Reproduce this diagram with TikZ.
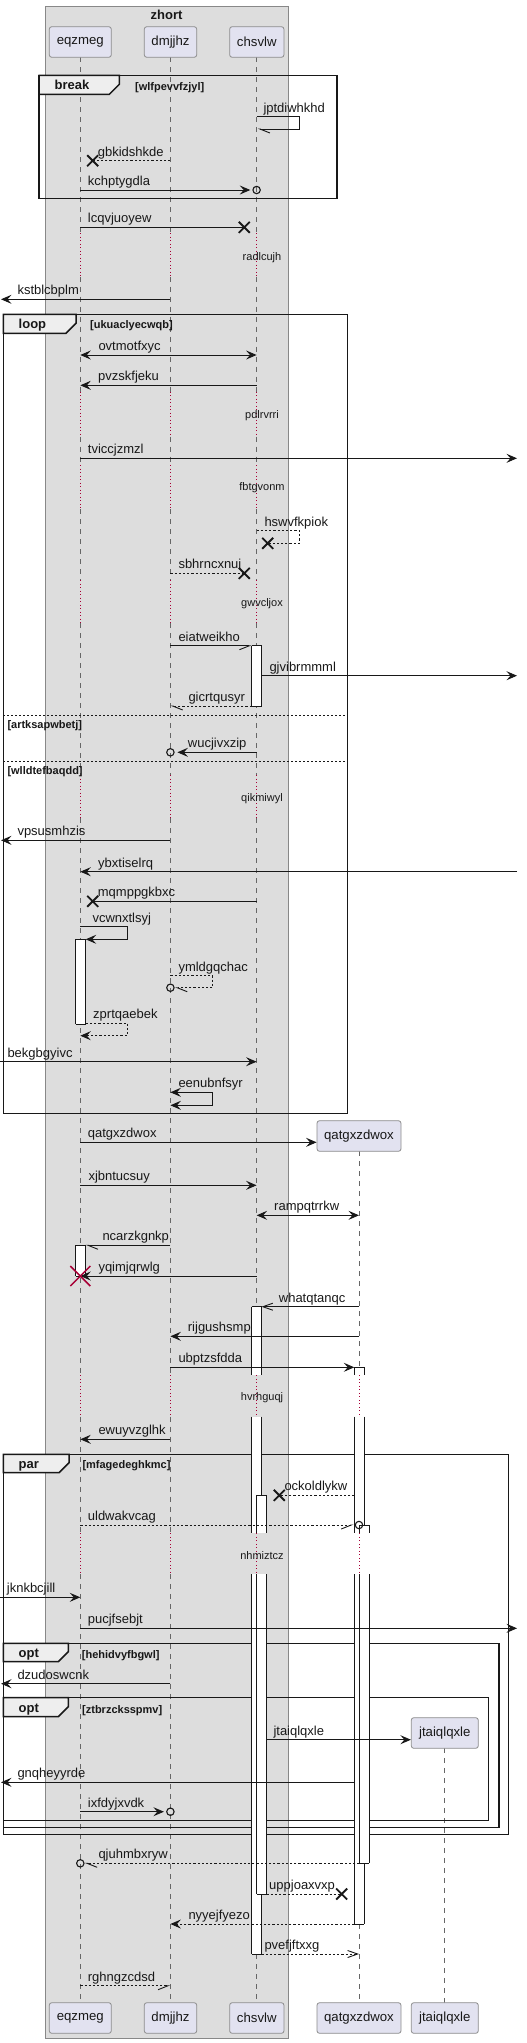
\documentclass[tikz,border=0pt]{standalone}
\usepackage{fontspec}
\setmainfont{Liberation Sans}
\usetikzlibrary{arrows.meta,calc}
\definecolor{grpbg}{HTML}{DDDDDD}
\definecolor{grpbd}{HTML}{888888}
\definecolor{partbg}{HTML}{E2E2F0}
\definecolor{partbd}{HTML}{8C8C8C}
\definecolor{lifec}{HTML}{666666}
\definecolor{ink}{HTML}{181818}
\definecolor{delayc}{HTML}{A80036}
\definecolor{tabbg}{HTML}{EEEEEE}
\tikzset{
  part/.style={draw=partbd, fill=partbg, rounded corners=2.5pt, minimum height=30.6pt, inner sep=0pt, font=\fontsize{13.2}{15}\selectfont, text=ink, line width=0.8pt},
  life/.style={draw=lifec, line width=0.8pt, dash pattern=on 5pt off 5pt},
  delayline/.style={draw=delayc, line width=0.8pt, dash pattern=on 1pt off 2.5pt},
  msg/.style={draw=ink, line width=0.9pt},
  dsh/.style={dash pattern=on 2.2pt off 2pt},
  full/.style={arrows={-Stealth[length=10.5pt,width=9pt,inset=4pt]}},
  fullboth/.style={arrows={Stealth[length=10.5pt,width=9pt,inset=4pt]-Stealth[length=10.5pt,width=9pt,inset=4pt]}},
  hbE/.style={arrows={-Straight Barb[length=10pt,width=8pt,right]}},
  hbW/.style={arrows={-Straight Barb[length=10pt,width=8pt,left]}},
  openb/.style={arrows={-Straight Barb[length=10pt,width=7pt]}},
  lab/.style={font=\fontsize{13}{15}\selectfont, anchor=base west, inner sep=0pt, text=ink},
  dlab/.style={font=\fontsize{11}{13}\selectfont, inner sep=0pt, text=ink},
  cond/.style={font=\bfseries\fontsize{11}{13}\selectfont, anchor=base west, inner sep=0pt, text=ink},
  ftitle/.style={font=\bfseries\fontsize{13}{15}\selectfont, anchor=base west, inner sep=0pt, text=ink},
  frameline/.style={draw=ink, line width=1.5pt},
  tabshape/.style={draw=ink, fill=tabbg, line width=1.5pt},
  sepline/.style={draw=ink, line width=0.8pt, dash pattern=on 2pt off 2pt},
  actbox/.style={draw=ink, line width=0.9pt},
  xmk/.style={draw=ink, line width=1.8pt},
  circ/.style={draw=ink, line width=1.1pt},
}
\newcommand\xmark[2]{\draw[xmk] (#1-5.5,#2-5.5) -- (#1+5.5,#2+5.5) (#1-5.5,#2+5.5) -- (#1+5.5,#2-5.5);}
\newcommand\actseg[6]{\fill[white] (#1,#3) rectangle (#2,#4);
  \draw[actbox] (#1,#3) -- (#1,#4) (#2,#3) -- (#2,#4);
  \ifnum#5=1 \draw[actbox] (#1,#3) -- (#2,#3);\fi
  \ifnum#6=1 \draw[actbox] (#1,#4) -- (#2,#4);\fi}
\newcommand\frm[8]{%
  \draw[frameline] (#1,#2) rectangle (#3,#4);
  \filldraw[tabshape] (#1,#2) -- (#5,#2) -- (#5,#6-10) -- (#5-10,#6) -- (#1,#6) -- cycle;
  \node[ftitle] at (#1+15.5,#6-4.5) {#7};
  \node[cond] at (#8,#6-4.5) {[#7cond]};}
\begin{document}
\begin{tikzpicture}[x=1pt,y=-1pt]
\useasboundingbox (0,0) rectangle (527,2043);
% group box
\draw[fill=grpbg, draw=grpbd, line width=0.8pt] (45,6) rectangle (288,2038.3);
\node[ftitle, anchor=base] (gtitle) at (166.5,19.5) {zhort};
% lifeline coordinates
\coordinate (P1) at (80.3,0);
\coordinate (P2) at (170.4,0);
\coordinate (P3) at (256.6,0);
\coordinate (P4) at (359,0);
\coordinate (P5) at (444.8,0);
\coordinate (LE) at (1,0);
\coordinate (L0) at (0,0);
\coordinate (RE) at (517,0);
% lifelines
\foreach \p in {P1,P2,P3}{
  \foreach \a/\b in {57.3/233, 276.7/391.7, 436.7/465, 509/580, 623.3/775, 818.3/1375.3, 1416.7/1533.3, 1574.3/2002.7}
    \draw[life] (\p|-0,\a) -- (\p|-0,\b);
  \foreach \a/\b in {233/276.7, 391.7/436.7, 465/509, 580/623.3, 775/818.3, 1375.3/1416.7, 1533.3/1574.3}
    \draw[delayline] (\p|-0,\a) -- (\p|-0,\b);
}
\foreach \a/\b in {1151.3/1375.3, 1416.7/1533.3, 1574.3/2002.7}
  \draw[life] (P4|-0,\a) -- (P4|-0,\b);
\foreach \a/\b in {1375.3/1416.7, 1533.3/1574.3}
  \draw[delayline] (P4|-0,\a) -- (P4|-0,\b);
\draw[life] (P5|-0,1748.3) -- (P5|-0,2002.7);
% delay labels
\node[dlab] (d1) at (262,257.3) {radlcujh};
\node[dlab] (d2) at (262,415.7) {pdlrvrri};
\node[dlab] (d3) at (262,488) {fbtgvonm};
\node[dlab] (d4) at (262,603.3) {gwvcljox};
\node[dlab] (d5) at (262,798.3) {qikmiwyl};
\node[dlab] (d6) at (262,1397.3) {hvrhguqj};
\node[dlab] (d7) at (262,1555.7) {nhmiztcz};
% frames
\draw[frameline] (39,75.3) rectangle (337,198.3);
\filldraw[tabshape] (39,75.3) -- (119.3,75.3) -- (119.3,84.3) -- (109.3,94.3) -- (39,94.3) -- cycle;
\node[ftitle] (fb) at (54.5,89.8) {break};
\node[cond] (fbc) at (135,90) {[wlfpevvfzjyl]};

\draw[frameline] (3.3,314.3) rectangle (347.7,1113.3);
\filldraw[tabshape] (3.3,314.3) -- (76,314.3) -- (76,323.3) -- (66,333.3) -- (3.3,333.3) -- cycle;
\node[ftitle] (fl) at (18.5,328.8) {loop};
\node[cond] (flc) at (90,328.6) {[ukuaclyecwqb]};
\draw[sepline] (3.3,715) -- (347.7,715);
\node[cond] (s1) at (7.3,728.3) {[artksapwbetj]};
\draw[sepline] (3.3,761) -- (347.7,761);
\node[cond] (s2) at (7.3,774.3) {[wlldtefbaqdd]};

\draw[frameline] (3.3,1454.3) rectangle (508.7,1834.3);
\filldraw[tabshape] (3.3,1454.3) -- (69,1454.3) -- (69,1462.7) -- (59,1472.7) -- (3.3,1472.7) -- cycle;
\node[ftitle] (fp) at (18.5,1468.3) {par};
\node[cond] (fpc) at (82.3,1468.6) {[mfagedeghkmc]};

\draw[frameline] (3.3,1643.3) rectangle (499,1827.7);
\filldraw[tabshape] (3.3,1643.3) -- (68.3,1643.3) -- (68.3,1651.7) -- (58.3,1661.7) -- (3.3,1661.7) -- cycle;
\node[ftitle] (fo1) at (18.5,1657.2) {opt};
\node[cond] (fo1c) at (81.7,1658.3) {[hehidvyfbgwl]};

\draw[frameline] (3.3,1697.7) rectangle (488.7,1820.3);
\filldraw[tabshape] (3.3,1697.7) -- (68.3,1697.7) -- (68.3,1706.7) -- (58.3,1716.7) -- (3.3,1716.7) -- cycle;
\node[ftitle] (fo2) at (18.5,1712) {opt};
\node[cond] (fo2c) at (82,1713.3) {[ztbrzcksspmv]};
% activations
\actseg{251.8}{261.5}{645.7}{706}{1}{1}
\actseg{75.7}{85.7}{939.3}{1024}{1}{1}
\actseg{75.7}{85.7}{1245.3}{1276}{1}{1}
\actseg{251.8}{261.5}{1306.7}{1375.3}{1}{0}
\actseg{251.8}{261.5}{1416.7}{1533.3}{0}{0}
\actseg{251.8}{261.5}{1574.3}{1954}{0}{1}
\actseg{256.8}{266.5}{1495.3}{1533.3}{1}{0}
\actseg{256.8}{266.5}{1574.3}{1894}{0}{1}
\actseg{354.3}{364.3}{1367.3}{1375.3}{1}{0}
\actseg{354.3}{364.3}{1416.7}{1533.3}{0}{0}
\actseg{354.3}{364.3}{1574.3}{1924}{0}{1}
\actseg{359.3}{369.3}{1525}{1533.3}{1}{0}
\actseg{359.3}{369.3}{1574.3}{1863.3}{0}{1}
% messages
\draw[msg,hbW] (P3|-0,116.7) -- (299.3,116.7) -- (299.3,129) -- ($(P3|-0,129)+(1,0)$);
\node[lab] (m1) at (263.3,112) {jptdiwhkhd};
\draw[msg,dsh] (P2|-0,160.7) -- (92.7,160.7); \xmark{92.7}{160.7}
\node[lab] (m2) at (97.7,156) {gbkidshkde};
\draw[msg,full] (P1|-0,190) -- ($(P3|-0,190)+(-6.3,0)$);
\draw[circ] (P3|-0,190) circle[radius=3.7];
\node[lab] (m3) at (87.7,185.3) {kchptygdla};
\draw[msg] (P1|-0,227.3) -- (244.3,227.3); \xmark{244.3}{227.3}
\node[lab] (m4) at (87.7,222.6) {lcqvjuoyew};
\draw[msg,full] (P2|-0,299.3) -- (LE|-0,299.3);
\node[lab] (m5) at (17.3,294.6) {kstblcbplm};
\draw[msg,fullboth] (P1|-0,355) -- (P3|-0,355);
\node[lab] (m6) at (98.3,350.3) {ovtmotfxyc};
\draw[msg,full] (P3|-0,385.3) -- (P1|-0,385.3);
\node[lab] (m7) at (98,380.6) {pvzskfjeku};
\draw[msg,full] (P1|-0,458.3) -- (RE|-0,458.3);
\node[lab] (m8) at (87.7,453.6) {tviccjzmzl};
\draw[msg,dsh] (P3|-0,530.7) -- (299.3,530.7) -- (299.3,543.3) -- (267.7,543.3); \xmark{267.7}{543.3}
\node[lab] (m9) at (264.3,526) {hswvfkpiok};
\draw[msg,dsh] (P2|-0,573.3) -- (244.3,573.3); \xmark{244.3}{573.3}
\node[lab] (m10) at (178.3,568.6) {sbhrncxnui};
\draw[msg,hbE] (P2|-0,645.7) -- ($(P3|-0,645.7)+(-4.8,0)$);
\node[lab] (m11) at (178.3,641) {eiatweikho};
\draw[msg,full] ($(P3|-0,675.7)+(4.9,0)$) -- (RE|-0,675.7);
\node[lab] (m12) at (269.3,671) {gjvibrmmml};
\draw[msg,dsh,hbW] ($(P3|-0,706)+(-4.8,0)$) -- (P2|-0,706);
\node[lab] (m13) at (188.3,701.3) {gicrtqusyr};
\draw[msg,full] (P3|-0,752.3) -- ($(P2|-0,752.3)+(7,0)$);
\draw[circ] (P2|-0,752.3) circle[radius=3.7];
\node[lab] (m14) at (187.7,747.6) {wucjivxzip};
\draw[msg,full] (P2|-0,840.3) -- (LE|-0,840.3);
\node[lab] (m15) at (17.3,835.6) {vpsusmhzis};
\draw[msg,full] (RE|-0,871.7) -- (P1|-0,871.7);
\node[lab] (m16) at (98,867) {ybxtiselrq};
\draw[msg] (P3|-0,901.3) -- (92.7,901.3); \xmark{92.7}{901.3}
\node[lab] (m17) at (97.7,896.6) {mqmppgkbxc};
\draw[msg,full] (P1|-0,926.7) -- (127.3,926.7) -- (127.3,939.3) -- ($(P1|-0,939.3)+(5.4,0)$);
\node[lab] (m18) at (92.3,922) {vcwnxtlsyj};
\draw[msg,dsh,hbW] (P2|-0,975.7) -- (212.7,975.7) -- (212.7,987.7) -- ($(P2|-0,987.7)+(4.5,0)$);
\draw[circ] (P2|-0,987.7) circle[radius=3.7];
\node[lab] (m19) at (178.3,971) {ymldgqchac};
\draw[msg,dsh,full] ($(P1|-0,1023.3)+(5.4,0)$) -- (127.3,1023.3) -- (127.3,1035.7) -- (P1|-0,1035.7);
\node[lab] (m20) at (93,1018.6) {zprtqaebek};
\draw[msg,full] (L0|-0,1061.7) -- (P3|-0,1061.7);
\node[lab] (m21) at (7.3,1057) {bekgbgyivc};
\draw[msg,fullboth] (P2|-0,1092.3) -- (212.7,1092.3) -- (212.7,1105.3) -- (P2|-0,1105.3);
\node[lab] (m22) at (178.3,1087.6) {eenubnfsyr};
% created participant qatgxzdwox
\node[part, minimum width=84pt] (c4) at (359,1136) {qatgxzdwox};
\draw[msg,full] (P1|-0,1142.3) -- (c4.west|-0,1142.3);
\node[lab] (m23) at (87.7,1137.6) {qatgxzdwox};
\draw[msg,full] (P1|-0,1185.3) -- (P3|-0,1185.3);
\node[lab] (m24) at (88.3,1180.6) {xjbntucsuy};
\draw[msg,fullboth] (P3|-0,1215.3) -- (P4|-0,1215.3);
\node[lab] (m25) at (274,1210.6) {rampqtrrkw};
\draw[msg,hbW] (P2|-0,1245.3) -- ($(P1|-0,1245.3)+(5.4,0)$);
\node[lab] (m26) at (102.3,1240.6) {ncarzkgnkp};
\draw[msg,full] (P3|-0,1276) -- (P1|-0,1276);
\draw[draw=delayc, line width=1.5pt] (70.3,1266) -- (90.3,1286) (70.3,1286) -- (90.3,1266);
\node[lab] (m27) at (98.3,1271.3) {yqimjqrwlg};
\draw[msg,openb] (P4|-0,1306.7) -- ($(P3|-0,1306.7)+(4.9,0)$);
\node[lab] (m28) at (278.7,1302) {whatqtanqc};
\draw[msg,full] (P4|-0,1336.3) -- (P2|-0,1336.3);
\node[lab] (m29) at (187.7,1331.6) {rijgushsmp};
\draw[msg,full] (P2|-0,1367.3) -- ($(P4|-0,1367.3)+(-4.7,0)$);
\node[lab] (m30) at (178.3,1362.6) {ubptzsfdda};
\draw[msg,full] (P2|-0,1439.3) -- (P1|-0,1439.3);
\node[lab] (m31) at (98.3,1434.6) {ewuyvzglhk};
\draw[msg,dsh] ($(P4|-0,1495.3)+(-4.7,0)$) -- (279.3,1495.3); \xmark{279.3}{1495.3}
\node[lab] (m32) at (284.3,1490.6) {ockoldlykw};
\draw[msg,dsh,hbE] (P1|-0,1525) -- ($(P4|-0,1525)+(-5.5,0)$);
\draw[circ] (P4|-0,1525) circle[radius=3.7];
\node[lab] (m33) at (87.7,1520.3) {uldwakvcag};
\draw[msg,full] (L0|-0,1597.3) -- (P1|-0,1597.3);
\node[lab] (m34) at (6.7,1592.6) {jknkbcjill};
\draw[msg,full] (P1|-0,1628.3) -- (RE|-0,1628.3);
\node[lab] (m35) at (87.7,1623.6) {pucjfsebjt};
\draw[msg,full] (P2|-0,1683.7) -- (LE|-0,1683.7);
\node[lab] (m36) at (17.3,1679) {dzudoswcnk};
% created participant jtaiqlqxle
\node[part, minimum width=67pt] (c5) at (444.8,1733) {jtaiqlqxle};
\draw[msg,full] ($(P3|-0,1739.7)+(9.9,0)$) -- (c5.west|-0,1739.7);
\node[lab] (m37) at (273.3,1735) {jtaiqlqxle};
\draw[msg,full] ($(P4|-0,1782.3)+(-4.7,0)$) -- (LE|-0,1782.3);
\node[lab] (m38) at (17.3,1777.6) {gnqheyyrde};
\draw[msg,full] (P1|-0,1811.7) -- ($(P2|-0,1811.7)+(-6.5,0)$);
\draw[circ] (P2|-0,1811.7) circle[radius=3.7];
\node[lab] (m39) at (87.7,1807) {ixfdyjxvdk};
\draw[msg,dsh,hbW] ($(P4|-0,1863.3)+(0.3,0)$) -- ($(P1|-0,1863.3)+(4.5,0)$);
\draw[circ] (P1|-0,1863.3) circle[radius=3.7];
\node[lab] (m40) at (98.3,1858.6) {qjuhmbxryw};
\draw[msg,dsh] ($(P3|-0,1894)+(9.9,0)$) -- (341.7,1894); \xmark{341.7}{1894}
\node[lab] (m41) at (269,1889.3) {uppjoaxvxp};
\draw[msg,dsh,full] ($(P4|-0,1924)+(-4.7,0)$) -- (P2|-0,1924);
\node[lab] (m42) at (188.3,1919.3) {nyyejfyezo};
\draw[msg,dsh,openb] ($(P3|-0,1954)+(4.9,0)$) -- (P4|-0,1954);
\node[lab] (m43) at (264.3,1949.3) {pvefjftxxg};
\draw[msg,dsh,hbE] (P1|-0,1985.7) -- (P2|-0,1985.7);
\node[lab] (m44) at (87.7,1981) {rghngzcdsd};
% participant heads
\node[part, minimum width=62pt] (t1) at (80.3,42) {eqzmeg};
\node[part, minimum width=52.4pt] (t2) at (170.5,42) {dmjjhz};
\node[part, minimum width=54.3pt] (t3) at (256.8,42) {chsvlw};
\node[part, minimum width=62pt] (b1) at (80.3,2018) {eqzmeg};
\node[part, minimum width=52.4pt] (b2) at (170.5,2018) {dmjjhz};
\node[part, minimum width=54.3pt] (b3) at (256.8,2018) {chsvlw};
\node[part, minimum width=84pt] (b4) at (359,2018) {qatgxzdwox};
\node[part, minimum width=67pt] (b5) at (444.8,2018) {jtaiqlqxle};
\end{tikzpicture}
\end{document}
